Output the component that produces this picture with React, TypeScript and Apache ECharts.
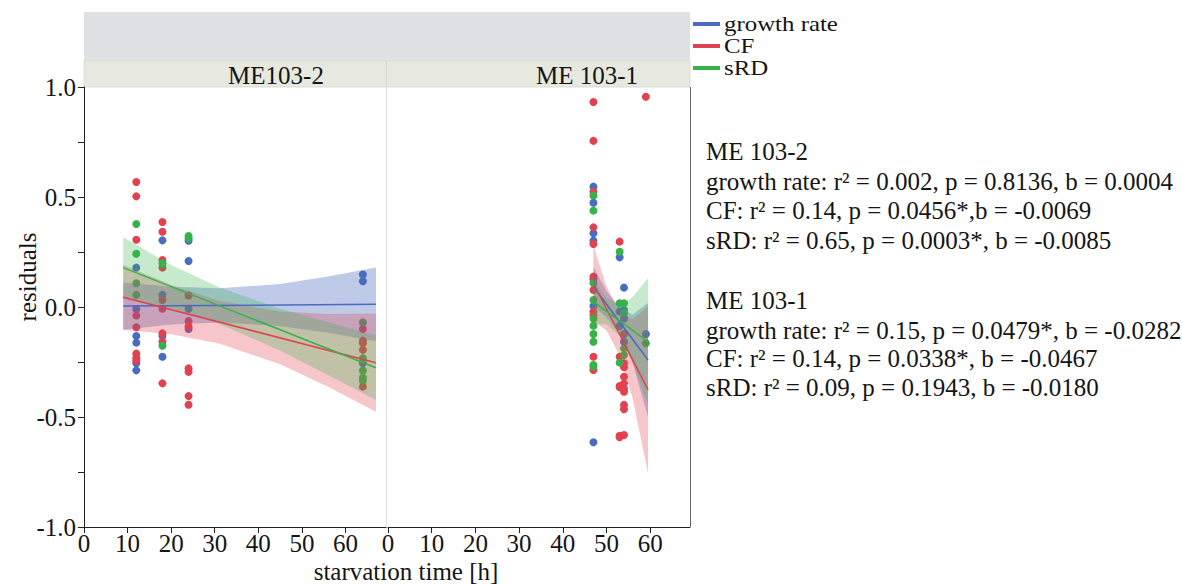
import React, { useEffect, useRef } from "react";
import * as echarts from "echarts";

const FONT = '"Liberation Serif", "Times New Roman", serif';
const FS = 25;
const TEXT = "#151515";
const BLUE = "#4a6cc0";
const RED = "#e0424f";
const GREEN = "#37b24a";
const BLUE_BAND = "rgba(74,108,192,0.36)";
const RED_BAND = "rgba(224,66,79,0.30)";
const GREEN_BAND = "rgba(55,178,74,0.28)";

type Column = [number, number[]];

// ME103-2 residuals grouped by starvation time (h)
const leftGrowth: Column[] = [
  [12, [0.179, -0.009, -0.132, -0.162, -0.256, -0.288]],
  [18, [0.303, 0.055, -0.132, -0.226]],
  [24, [0.301, 0.209, -0.008, -0.1]],
  [64, [0.148, 0.117, -0.256]],
];
const leftCF: Column[] = [
  [12, [0.568, 0.503, 0.306, -0.039, -0.092, -0.212, -0.233, -0.244]],
  [18, [0.386, 0.342, 0.214, 0.179, 0.032, -0.008, -0.12, -0.158, -0.347]],
  [24, [0.052, -0.064, -0.089, -0.279, -0.295, -0.405, -0.444]],
  [64, [-0.1, -0.153, -0.165, -0.195, -0.362]],
];
const leftSRD: Column[] = [
  [12, [0.377, 0.242, 0.108, 0.055]],
  [18, [0.198, -0.176]],
  [24, [0.323, 0.312]],
  [64, [-0.07, -0.233, -0.289, -0.321, -0.335]],
];

// ME 103-1 residuals grouped by starvation time (h)
const rightGrowth: Column[] = [
  [47, [0.547, 0.474, 0.335, 0.301, 0.005, -0.615]],
  [53, [0.226, -0.02, -0.086]],
  [54, [0.088, -0.014, -0.052, -0.158]],
  [59, [-0.123]],
];
const rightCF: Column[] = [
  [47, [0.932, 0.755, 0.524, 0.362, 0.286, 0.138, 0.126, 0.077, -0.021, -0.036, -0.226, -0.286]],
  [53, [0.297, -0.226, -0.359, -0.365, -0.585, -0.592]],
  [54, [-0.123, -0.256, -0.274, -0.317, -0.347, -0.37, -0.385, -0.445, -0.465, -0.582]],
  [59, [0.956]],
];
const rightSRD: Column[] = [
  [47, [0.507, 0.438, 0.108, 0.032, -0.052, -0.085, -0.123, -0.158, -0.264, -0.271]],
  [53, [0.251, 0.017, -0.253]],
  [54, [0.017, -0.026, -0.188, -0.218]],
  [59, [-0.165]],
];

// Regression lines (start / end) and confidence bands
const leftFitT = [9, 67];
const leftFitGrowth = [0.004, 0.012];
const leftFitCF = [0.044, -0.253];
const leftFitSRD = [0.179, -0.276];
const leftBandT = [9, 20, 31, 45, 56, 67];
const leftGrowthUpper = [0.111, 0.092, 0.085, 0.104, 0.139, 0.18];
const leftGrowthLower = [-0.103, -0.08, -0.071, -0.086, -0.117, -0.156];
const leftCFUpper = [0.192, 0.1, 0.028, -0.02, -0.032, -0.03];
const leftCFLower = [-0.104, -0.124, -0.166, -0.26, -0.362, -0.476];
const leftSRDUpper = [0.317, 0.191, 0.09, -0.008, -0.069, -0.129];
const leftSRDLower = [0.041, -0.005, -0.076, -0.198, -0.309, -0.423];

const rightFitT = [47, 59.5];
const rightFitGrowth = [0.092, -0.241];
const rightFitCF = [0.108, -0.377];
const rightFitSRD = [0.024, -0.158];
const rightBandT = [47, 50, 53, 56, 59.5];
const rightGrowthUpper = [0.182, 0.073, -0.005, -0.034, 0.019];
const rightGrowthLower = [0.002, -0.047, -0.125, -0.254, -0.501];
const rightCFUpper = [0.278, 0.093, -0.021, -0.056, 0.003];
const rightCFLower = [-0.062, -0.107, -0.221, -0.416, -0.757];
const rightSRDUpper = [0.124, 0.041, 0.008, 0.045, 0.132];
const rightSRDLower = [-0.076, -0.079, -0.132, -0.255, -0.448];

const xTicks = [0, 10, 20, 30, 40, 50, 60];
const yTicks = [-1, -0.5, 0, 0.5, 1];

const legendNames = ["growth rate", "CF", "sRD"];
const legendColors = [BLUE, RED, GREEN];
const panelTitles = ["ME103-2", "ME 103-1"];
const statLines = [
  "ME 103-2",
  "growth rate: r² = 0.002, p = 0.8136, b = 0.0004",
  "CF: r² = 0.14, p = 0.0456*,b = -0.0069",
  "sRD: r² = 0.65, p = 0.0003*, b = -0.0085",
  "",
  "ME 103-1",
  "growth rate: r² = 0.15, p = 0.0479*, b = -0.0282",
  "CF: r² = 0.14, p = 0.0338*, b = -0.0467",
  "sRD: r² = 0.09, p = 0.1943, b = -0.0180",
];

const flatten = (cols: Column[]) =>
  cols.flatMap(([t, vals]) => vals.map((v) => [t, v]));

function scatter(name: string, idx: number, cols: Column[], color: string) {
  return {
    type: "scatter",
    name,
    xAxisIndex: idx,
    yAxisIndex: idx,
    symbolSize: 8,
    itemStyle: { color, opacity: 1 },
    data: flatten(cols),
    z: 2,
  };
}

function band(idx: number, ts: number[], lo: number[], hi: number[], fill: string) {
  return {
    type: "custom",
    name: "band",
    xAxisIndex: idx,
    yAxisIndex: idx,
    silent: true,
    z: 3,
    data: [[ts[0], lo[0]]],
    renderItem: (_p: any, api: any) => {
      const pts: number[][] = [];
      ts.forEach((t, i) => pts.push(api.coord([t, hi[i]])));
      for (let i = ts.length - 1; i >= 0; i--) pts.push(api.coord([ts[i], lo[i]]));
      return { type: "polygon", shape: { points: pts }, style: { fill, stroke: "none" } };
    },
  };
}

function fit(idx: number, ts: number[], ys: number[], color: string) {
  return {
    type: "line",
    name: "fit",
    xAxisIndex: idx,
    yAxisIndex: idx,
    showSymbol: false,
    silent: true,
    z: 3,
    lineStyle: { color, width: 1.5 },
    data: ts.map((t, i) => [t, ys[i]]),
  };
}

const textStyle = { fontFamily: FONT, fontSize: FS, color: TEXT };

function xAxis(idx: number, max: number) {
  return {
    type: "value",
    gridIndex: idx,
    position: "bottom",
    min: 0,
    max,
    interval: 10,
    axisLine: { show: true, onZero: false, lineStyle: { color: "#222", width: 1 } },
    axisTick: { show: true, length: 6, lineStyle: { color: "#222" } },
    axisLabel: {
      ...textStyle,
      margin: 4,
      showMaxLabel: false,
      formatter: (v: number) => (xTicks.includes(v) ? String(v) : ""),
    },
    splitLine: { show: false },
  };
}

function label(
  text: string,
  x: number,
  y: number,
  align = "center",
  rotation = 0,
  lineHeight = FS,
  size = FS,
  scaleX = 1
) {
  return {
    type: "text",
    x,
    y,
    rotation,
    scaleX,
    z: 5,
    style: {
      text,
      font: `${size}px ${FONT}`,
      fill: TEXT,
      lineHeight,
      textAlign: align,
      textVerticalAlign: "middle",
      align,
      verticalAlign: "middle",
    },
  };
}

export default function App() {
  const ref = useRef<HTMLDivElement>(null);
  useEffect(() => {
    if (!ref.current) return;
    const chart = echarts.init(ref.current, undefined, { renderer: "svg" });
    const graphic: any[] = [
      { type: "rect", shape: { x: 84, y: 12, width: 606, height: 49 }, style: { fill: "#e0e1e3" }, z: 0 },
      { type: "rect", shape: { x: 84, y: 61, width: 606, height: 26 }, style: { fill: "#e7e8df", stroke: "#dcddd2", lineWidth: 1 }, z: 0 },
      { type: "line", shape: { x1: 386.5, y1: 61, x2: 386.5, y2: 87 }, style: { stroke: "#d6d7cc", lineWidth: 1 }, z: 1 },
      { type: "line", shape: { x1: 386.5, y1: 87, x2: 386.5, y2: 527 }, style: { stroke: "#e2e2e2", lineWidth: 1 }, z: 1 },
      { type: "line", shape: { x1: 690.5, y1: 87, x2: 690.5, y2: 527 }, style: { stroke: "#666", lineWidth: 1 }, z: 1 },
      label(panelTitles[0], 276, 75),
      label(panelTitles[1], 587, 75),
      label("residuals", 27, 277, "center", Math.PI / 2),
      label("starvation time [h]", 406, 571, "center", 0, 22),
    ];
    // legend: short coloured bars with series names, rows 22px apart
    legendNames.forEach((n, i) => {
      const y = 24 + i * 22;
      graphic.push({ type: "rect", shape: { x: 693, y: y - 2, width: 27, height: 4 }, style: { fill: legendColors[i] }, z: 5 });
      graphic.push(label(n, 724, y, "left", 0, 20, 22, 1.13));
    });
    const lineYs = [151, 181, 210, 240, 0, 300, 330, 358, 387];
    statLines.forEach((s, i) => {
      if (s) graphic.push(label(s, 706, lineYs[i], "left", 0, 27));
    });

    chart.setOption({
      animation: false,
      backgroundColor: "#ffffff",
      textStyle: { fontFamily: FONT },
      grid: [
        { left: 84, top: 87, width: 302, height: 440, containLabel: false },
        { left: 388, top: 87, width: 302, height: 440, containLabel: false },
      ],
      xAxis: [xAxis(0, 69.3), xAxis(1, 69.1)],
      yAxis: [
        {
          type: "value",
          gridIndex: 0,
          min: -1,
          max: 1,
          interval: 0.5,
          axisLine: { show: true, onZero: false, lineStyle: { color: "#222", width: 1 } },
          axisTick: { show: true, length: 6, lineStyle: { color: "#222" } },
          minorTick: { show: true, splitNumber: 2, length: 6, lineStyle: { color: "#222" } },
          axisLabel: {
            ...textStyle,
            margin: 8,
            formatter: (v: number) => (yTicks.includes(v) ? v.toFixed(1) : ""),
          },
          splitLine: { show: false },
        },
        { type: "value", gridIndex: 1, min: -1, max: 1, interval: 0.5, show: false, splitLine: { show: false } },
      ],
      graphic,
      series: [
        scatter("growth rate", 0, leftGrowth, BLUE),
        scatter("CF", 0, leftCF, RED),
        scatter("sRD", 0, leftSRD, GREEN),
        scatter("growth rate", 1, rightGrowth, BLUE),
        scatter("CF", 1, rightCF, RED),
        scatter("sRD", 1, rightSRD, GREEN),
        band(0, leftBandT, leftGrowthLower, leftGrowthUpper, BLUE_BAND),
        fit(0, leftFitT, leftFitGrowth, BLUE),
        band(0, leftBandT, leftCFLower, leftCFUpper, RED_BAND),
        fit(0, leftFitT, leftFitCF, RED),
        band(0, leftBandT, leftSRDLower, leftSRDUpper, GREEN_BAND),
        fit(0, leftFitT, leftFitSRD, GREEN),
        band(1, rightBandT, rightGrowthLower, rightGrowthUpper, BLUE_BAND),
        fit(1, rightFitT, rightFitGrowth, BLUE),
        band(1, rightBandT, rightCFLower, rightCFUpper, RED_BAND),
        fit(1, rightFitT, rightFitCF, RED),
        band(1, rightBandT, rightSRDLower, rightSRDUpper, GREEN_BAND),
        fit(1, rightFitT, rightFitSRD, GREEN),
      ],
    });
    return () => chart.dispose();
  }, []);
  return (
    <div
      ref={ref}
      style={{ position: "absolute", left: 0, top: 0, width: 1182, height: 584, background: "#fff" }}
    />
  );
}
